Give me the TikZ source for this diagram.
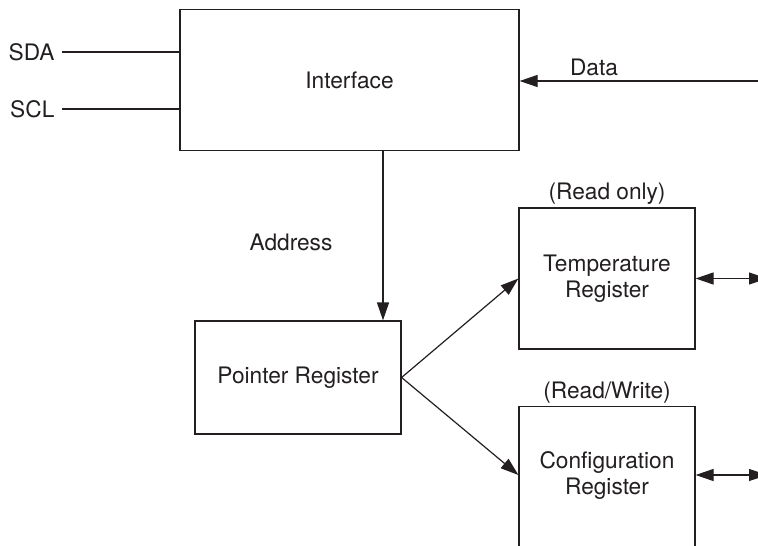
\documentclass[tikz,border=0pt]{standalone}
\usepackage{fontspec}
\setmainfont{TeX Gyre Heros}
\usetikzlibrary{arrows.meta}

\definecolor{Ink}{HTML}{231F20}

\begin{document}
\begin{tikzpicture}[x=1pt, y=-1pt, line width=1.2pt, color=Ink,
  txt/.style={inner sep=0pt, font=\fontsize{22.7}{26}\selectfont},
  reg/.style={draw, rectangle, txt, align=center},
  arr/.style={-{Triangle[length=18pt,width=12pt]}},
  dbl/.style={{Triangle[length=18pt,width=12pt]}-{Triangle[length=18pt,width=12pt]}}]

 \useasboundingbox (0,0) rectangle (758,546);
 \clip (0,0) rectangle (758,546);

 %%%%%%%%%% Blocks %%%%%%%%%%
 \node[reg, minimum width=339pt, minimum height=141pt] (iface) at (349.5,80) {Interface};
 \node[reg, minimum width=206pt, minimum height=113pt] (ptr) at (298,377.5) {Pointer Register};
 \node[reg, minimum width=176pt, minimum height=141pt,
   label={[txt, yshift=2pt]above:(Read only)}] (temp) at (607,278.5) {Temperature\\Register};
 \node[reg, minimum width=176pt, minimum height=180pt, anchor=north,
   label={[txt, yshift=2pt]above:(Read/Write)}] (cfg) at (607,406) {};
 \node[txt, align=center] (cfgtxt) at (607,475) {Configuration\\Register};

 %%%%%%%%%% Labels %%%%%%%%%%
 \node[txt, inner xsep=7pt, anchor=east] (sda) at (62,52) {SDA};
 \node[txt, inner xsep=7pt, anchor=east] (scl) at (62,109) {SCL};
 \node[txt] (data) at (594,67) {Data};
 \node[txt] (address) at (291,242) {Address};

 %%%%%%%%%% Points pour les fleches %%%%%%%%%%
 \coordinate (datain) at (770,81) ;
 \coordinate (addr) at (383,0) ;
 \coordinate (tempout) at (767,278.5) ;
 \coordinate (cfgout) at (767,475) ;

 % Bus lines
 \draw (sda.east) -- (sda.east -| iface.west) ;
 \draw (scl.east) -- (scl.east -| iface.west) ;
 \draw [arr] (datain) -- (datain -| iface.east) ;

 % Address
 \draw [arr] (iface.south -| addr) -- (ptr.north -| addr) ;

 % Pointer to registers
 \draw [arr] (ptr.east) -- (temp.west) ;
 \draw [arr] (ptr.east) -- (cfg.west |- cfgtxt) ;

 % Register data
 \draw [dbl] (temp.east) -- (tempout) ;
 \draw [dbl] (cfg.east |- cfgtxt) -- (cfgout) ;

\end{tikzpicture}
\end{document}
